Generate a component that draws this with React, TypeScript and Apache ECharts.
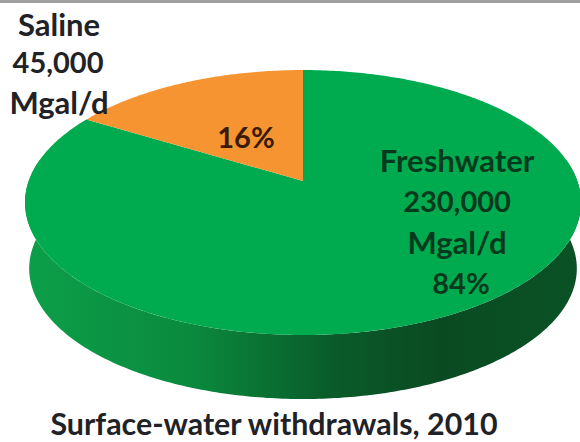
import React, { useEffect, useRef } from "react";
import * as echarts from "echarts";

const categories = ["Freshwater", "Saline"];
const withdrawals = [230000, 45000];
const percentLabels = ["84%", "16%"];
const unit = "Mgal/d";
const chartTitle = "Surface-water withdrawals, 2010";

const topColors = ["#00ab50", "#f79432"];
const wallColors = [
  { offset: 0, color: "#0c9f48" },
  { offset: 0.3, color: "#0a8a3e" },
  { offset: 0.55, color: "#0a5c2a" },
  { offset: 0.75, color: "#0a4a22" },
  { offset: 1, color: "#0a5226" },
];

// Tilted disc: perspective projection of a unit circle onto the page.
const CX = 303;
const APEX_Y = 181;
const SCALE_X = 274.3;
const SCALE_Y = 129;
const TILT = 0.1625;
const DEPTH = 66.3;
const BASE_SCALE = 0.985;
const TAU = Math.PI * 2;

function project(theta: number, scale = 1, drop = 0): number[] {
  const u = Math.sin(theta);
  const v = -Math.cos(theta);
  const w = 1 - TILT * v;
  return [CX + (scale * SCALE_X * u) / w, APEX_Y + drop + (scale * SCALE_Y * v) / w];
}

function arc(from: number, to: number, scale = 1, drop = 0): number[][] {
  const steps = Math.max(2, Math.ceil(Math.abs(to - from) * 80));
  const pts: number[][] = [];
  for (let i = 0; i <= steps; i++) pts.push(project(from + ((to - from) * i) / steps, scale, drop));
  return pts;
}

const total = withdrawals.reduce((a, b) => a + b, 0);
let running = 0;
const sliceData = withdrawals.map((value, index) => {
  const start = (running / total) * TAU;
  running += value;
  return { name: categories[index], value: [start, (running / total) * TAU, index] };
});

const FRONT_FROM = (80 / 360) * TAU;
const FRONT_TO = (280 / 360) * TAU;

function renderSlice(_params: any, api: any) {
  const start = api.value(0);
  const end = api.value(1);
  const index = api.value(2);
  const children: any[] = [];
  const wallFrom = Math.max(start, FRONT_FROM);
  const wallTo = Math.min(end, FRONT_TO);
  if (wallTo > wallFrom) {
    children.push({
      type: "polygon",
      shape: {
        points: [
          ...arc(wallFrom, wallTo),
          ...arc(wallFrom, wallTo, BASE_SCALE, DEPTH).reverse(),
        ],
      },
      style: {
        fill: { type: "linear", x: 24, y: 0, x2: 580, y2: 0, global: true, colorStops: wallColors },
      },
    });
  }
  children.push({
    type: "polygon",
    shape: { points: [[CX, APEX_Y], ...arc(start, end)] },
    style: { fill: topColors[index] },
  });
  return { type: "group", children };
}

const FONT = 'Lato, "Open Sans", sans-serif';
const WORD_SIZE = 31;
const NUMBER_SIZE = 29;
const labelText = (text: string, x: number, y: number, fill: string, fontSize: number) => ({
  type: "text",
  x,
  y,
  z: 10,
  style: {
    text,
    x: 0,
    y: 0,
    fill,
    font: `bold ${fontSize}px ${FONT}`,
    lineHeight: Math.round(fontSize),
    align: "center",
    verticalAlign: "middle",
  },
});

export default function App() {
  const ref = useRef<HTMLDivElement>(null);
  useEffect(() => {
    document.body.style.margin = "0";
    const chart = echarts.init(ref.current!, null, { renderer: "svg" });
    chart.setOption({
      animation: false,
      backgroundColor: "#ffffff",
      graphic: [
        { type: "rect", shape: { x: 0, y: 0, width: 580, height: 3 }, style: { fill: "#a0a0a0" } },
        labelText(categories[1], 59, 24, "#1f2226", WORD_SIZE),
        labelText(withdrawals[1].toLocaleString("en-US"), 58, 61, "#1f2226", NUMBER_SIZE),
        labelText(unit, 59, 102, "#1f2226", WORD_SIZE),
        labelText(percentLabels[1], 246, 136, "#3a1c06", NUMBER_SIZE),
        labelText(categories[0], 457, 160, "#063a1c", WORD_SIZE),
        labelText(withdrawals[0].toLocaleString("en-US"), 457, 200, "#063a1c", NUMBER_SIZE),
        labelText(unit, 457, 242, "#063a1c", WORD_SIZE),
        labelText(percentLabels[0], 461, 282, "#063a1c", NUMBER_SIZE),
        labelText(chartTitle, 274, 423, "#1f2226", 30.4),
      ],
      series: [
        {
          type: "custom",
          coordinateSystem: "none",
          renderItem: renderSlice,
          data: sliceData,
          silent: true,
        },
      ],
    });
    return () => chart.dispose();
  }, []);
  return <div ref={ref} style={{ width: 580, height: 442 }} />;
}
